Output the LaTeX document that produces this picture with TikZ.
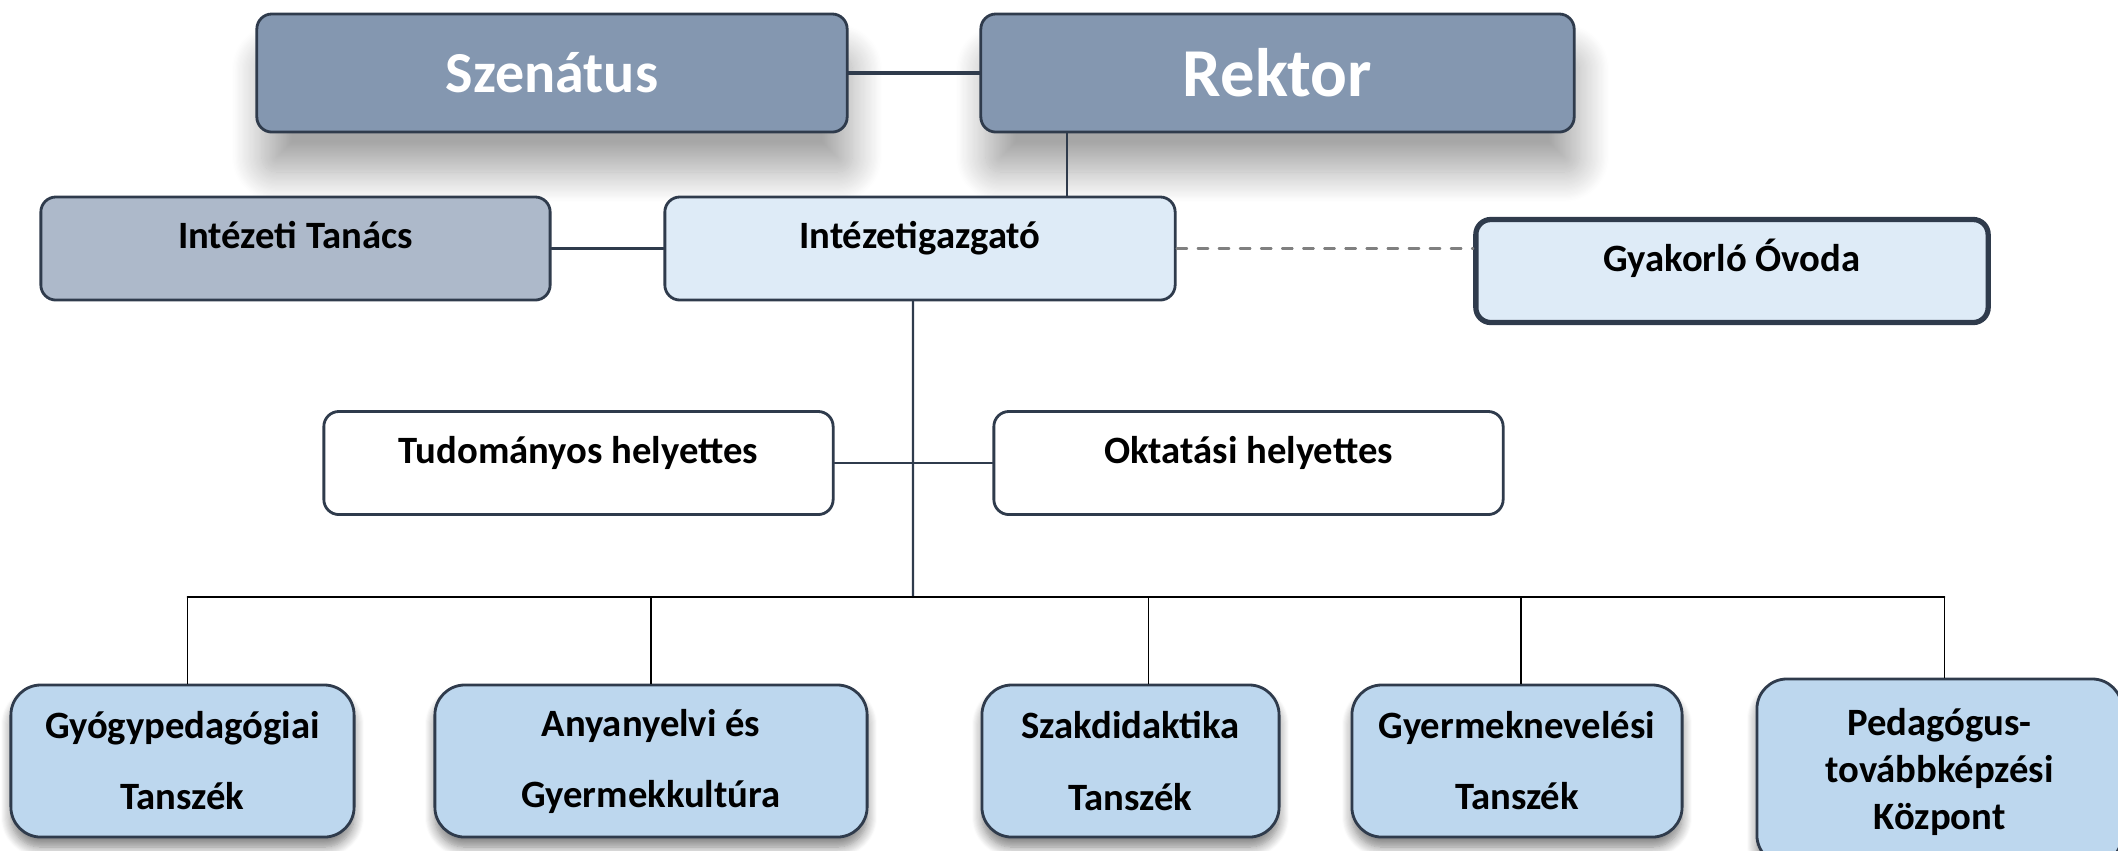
\documentclass[tikz,border=0pt]{standalone}
\usepackage{fontspec}
\setmainfont{Carlito}
\usetikzlibrary{shadows.blur}
\definecolor{headfill}{HTML}{8497B0}
\definecolor{councilfill}{HTML}{ADB9CA}
\definecolor{paleblue}{HTML}{DEEBF7}
\definecolor{deptfill}{HTML}{BDD7EE}
\definecolor{edge}{HTML}{2F3B4C}
\begin{document}
\begin{tikzpicture}[x=0.01cm, y=-0.01cm, font=\bfseries, line join=round, line cap=round,
	box/.style={draw=edge, line width=0.8pt, rounded corners=0.15cm, align=center},
	head/.style={box, fill=headfill, text=white, minimum height=1.18cm,
		blur shadow={shadow xshift=0.05cm, shadow yshift=-0.4cm, shadow blur radius=0.3cm, shadow blur steps=25, shadow opacity=35}},
	mid/.style={box, minimum height=1.03cm, text height=8pt, text depth=8pt, font=\bfseries\fontsize{11}{13}\selectfont},
	dept/.style={box, fill=deptfill, rounded corners=0.3cm, minimum height=1.52cm, font=\bfseries\fontsize{11}{20.2}\selectfont,
		blur shadow={shadow xshift=0pt, shadow yshift=-0.1cm, shadow blur radius=0.1cm, shadow blur steps=10, shadow opacity=50}},
	link/.style={draw=edge, line width=0.6pt},
	bus/.style={draw=black, line width=0.45pt}]
	\useasboundingbox (0,0) rectangle (2118,850);

	\node[head, minimum width=5.9cm, font=\bfseries\fontsize{16.5}{20}\selectfont] (szenatus) at (552,73) {Szenátus};
	\node[head, minimum width=5.93cm, font=\bfseries\fontsize{19.5}{23}\selectfont] (rektor) at (1277.5,73) {Rektor};

	\node[mid, fill=councilfill, minimum width=5.09cm] (tanacs) at (295.5,248.5) {Intézeti Tanács};
	\node[mid, fill=paleblue, minimum width=5.1cm] (igazgato) at (920,248.5) {Intézetigazgató};
	\node[mid, fill=paleblue, minimum width=5.12cm, line width=1.5pt] (ovoda) at (1732,271) {Gyakorló Óvoda};
	\node[mid, fill=white, minimum width=5.09cm] (tudhely) at (578.5,463) {Tudományos helyettes};
	\node[mid, fill=white, minimum width=5.09cm] (okthely) at (1248.5,463) {Oktatási helyettes};

	\node[dept, minimum width=3.43cm] (gyogy) at (182.5,761) {Gyógypedagógiai\\Tanszék};
	\node[dept, minimum width=4.32cm] (anyany) at (651,761) {Anyanyelvi és\\Gyermekkultúra};
	\node[dept, minimum width=2.97cm] (szakdid) at (1130.5,761) {Szakdidaktika\\Tanszék};
	\node[dept, minimum width=3.3cm] (gyermek) at (1517,761) {Gyermeknevelési\\Tanszék};
	\node[dept, minimum width=3.65cm, minimum height=1.86cm, font=\bfseries\fontsize{11}{13.4}\selectfont] (pedtov) at (1939.5,772) {Pedagógus-\\továbbképzési\\Központ};

	\coordinate (bus) at (913,597);

	\draw[link, line width=0.9pt] (szenatus) -- (rektor);
	\draw[link] ([xshift=-2.1cm]rektor.south) -- ([xshift=-2.1cm]rektor.south |- igazgato.north);
	\draw[link] (tanacs) -- (igazgato);
	\draw[link, draw=gray, dashed] (igazgato.east) -- (igazgato.east -| ovoda.west);
	\draw[link] ([xshift=-0.07cm]igazgato.south) -- (bus);
	\draw[link] (tudhely) -- (okthely);

	\draw[bus] ([xshift=0.05cm]gyogy.north |- bus) -- ([xshift=0.05cm]pedtov.north |- bus);
	\draw[bus] ([xshift=0.05cm]gyogy.north |- bus) -- ([xshift=0.05cm]gyogy.north);
	\draw[bus] (anyany.north |- bus) -- (anyany.north);
	\draw[bus] ([xshift=0.18cm]szakdid.north |- bus) -- ([xshift=0.18cm]szakdid.north);
	\draw[bus] ([xshift=0.04cm]gyermek.north |- bus) -- ([xshift=0.04cm]gyermek.north);
	\draw[bus] ([xshift=0.05cm]pedtov.north |- bus) -- ([xshift=0.05cm]pedtov.north);
\end{tikzpicture}
\end{document}
